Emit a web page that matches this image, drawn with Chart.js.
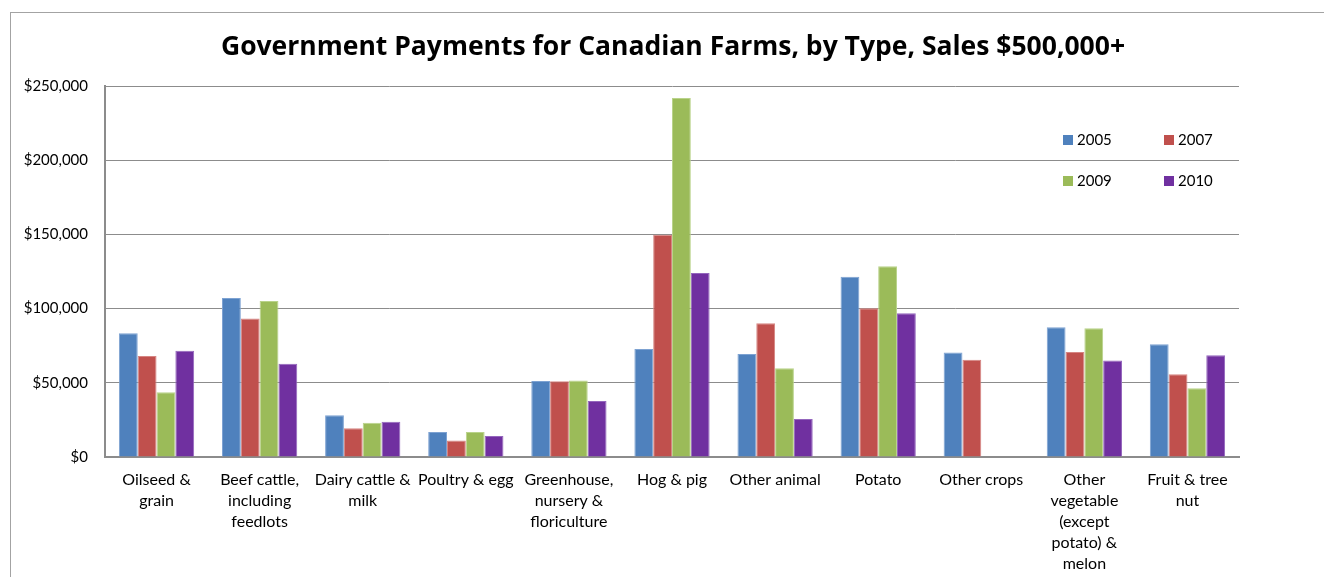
<!DOCTYPE html>
<html>
<head>
<meta charset="utf-8">
<script src="https://cdn.jsdelivr.net/npm/chart.js@4.4.1/dist/chart.umd.min.js"></script>
<style>
  html, body { margin: 0; padding: 0; background: #ffffff; }
  #wrap { position: relative; width: 1324px; height: 577px; overflow: hidden; }
  #frame { position: absolute; left: 10px; top: 12px; width: 1400px; height: 700px;
           border-top: 1px solid #a3a3a3; border-left: 1px solid #a3a3a3; pointer-events: none; }
  canvas { position: absolute; left: 0; top: 0; }
</style>
</head>
<body>
<div id="wrap">
  <canvas id="chart" width="1324" height="577"></canvas>
  <div id="frame"></div>
</div>
<script>
// Farm types (multi-line category labels)
const categories = [
  ["Oilseed &", "grain"],
  ["Beef cattle,", "including", "feedlots"],
  ["Dairy cattle &", "milk"],
  ["Poultry & egg"],
  ["Greenhouse,", "nursery &", "floriculture"],
  ["Hog & pig"],
  ["Other animal"],
  ["Potato"],
  ["Other crops"],
  ["Other", "vegetable", "(except", "potato) &", "melon"],
  ["Fruit & tree", "nut"]
];

// Average government payments per farm, dollars
const years = ["2005", "2007", "2009", "2010"];
const payments2005 = [83400, 107100, 28100, 16800, 51200, 72800, 69400, 121500, 70500, 87400, 75900];
const payments2007 = [68000, 93400, 19300, 11200, 51000, 149800, 90100, 100200, 65600, 70800, 55700];
const payments2009 = [43600, 105100, 23100, 16800, 51600, 241900, 59800, 128500, null, 86700, 46300];
const payments2010 = [71600, 62900, 23800, 14100, 37700, 124000, 25600, 96800, null, 65100, 68500];

const yTicks = [0, 50000, 100000, 150000, 200000, 250000];

const chartTitle = "Government Payments for Canadian Farms, by Type, Sales $500,000+";

const fillColors = ["#4F81BD", "#C0504D", "#9BBB59", "#7030A0"];
const edgeColors = ["#7da2d2", "#d68582", "#b9d38a", "#9466bd"];

const FONT = "Lato, 'Open Sans', sans-serif";

// Heading centred over the framed panel
const heading = {
  id: "heading",
  afterDraw(chart) {
    const ctx = chart.ctx;
    ctx.save();
    ctx.font = "bold 26.5px 'Open Sans', Lato, sans-serif";
    ctx.fillStyle = "#000000";
    ctx.textAlign = "center";
    ctx.textBaseline = "alphabetic";
    ctx.fillText(chartTitle, 673, 55);
    ctx.restore();
  }
};

// Two-column legend drawn inside the plot area
const gridLegend = {
  id: "gridLegend",
  afterDraw(chart) {
    const ctx = chart.ctx;
    const area = chart.chartArea;
    const x0 = area.right - 176, y0 = area.top + 54;
    const colW = 101, rowH = 41, box = 10;
    ctx.save();
    ctx.font = "15px " + FONT;
    ctx.textBaseline = "middle";
    ctx.textAlign = "left";
    chart.data.datasets.forEach((ds, i) => {
      const x = x0 + (i % 2) * colW;
      const y = y0 + Math.floor(i / 2) * rowH;
      ctx.fillStyle = ds.backgroundColor;
      ctx.fillRect(x, y - box / 2, box, box);
      ctx.fillStyle = "#000000";
      ctx.fillText(ds.label, x + box + 4, y);
    });
    ctx.restore();
  }
};

const series = [payments2005, payments2007, payments2009, payments2010];

new Chart(document.getElementById("chart"), {
  type: "bar",
  data: {
    labels: categories,
    datasets: series.map((values, i) => ({
      label: years[i],
      data: values,
      backgroundColor: fillColors[i],
      borderColor: edgeColors[i],
      borderWidth: { top: 1, left: 1, right: 1, bottom: 0 },
      categoryPercentage: 0.73,
      barPercentage: 1.0
    }))
  },
  options: {
    responsive: false,
    animation: false,
    devicePixelRatio: 1,
    layout: { padding: { left: 0, right: 85, top: 86, bottom: 0 } },
    plugins: {
      legend: { display: false },
      tooltip: { enabled: false },
      title: { display: false }
    },
    scales: {
      x: {
        grid: { display: false, drawTicks: false },
        border: { display: true, color: "#8c8c8c", width: 2 },
        ticks: {
          color: "#000000",
          font: { family: FONT, size: 16, lineHeight: 1.3125 },
          padding: 12,
          maxRotation: 0,
          autoSkip: false
        },
        afterFit(scale) { scale.height = 120; }
      },
      y: {
        min: 0,
        max: 250000,
        afterBuildTicks(scale) { scale.ticks = yTicks.map(v => ({ value: v })); },
        grid: { color: "#8c8c8c", lineWidth: 1, drawTicks: false },
        border: { display: true, color: "#8c8c8c", width: 2 },
        ticks: {
          color: "#000000",
          font: { family: FONT, size: 15 },
          padding: 17,
          callback: v => "$" + Number(v).toLocaleString("en-US")
        },
        afterFit(scale) { scale.width = 105; }
      }
    }
  },
  plugins: [heading, gridLegend]
});
</script>
</body>
</html>
